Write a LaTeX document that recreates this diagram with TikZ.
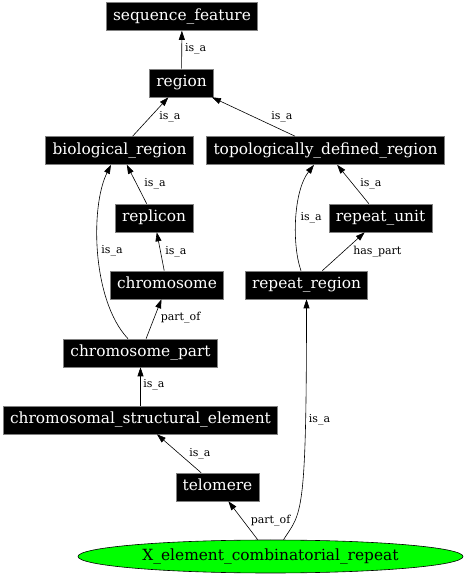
\documentclass[tikz,border=0pt]{standalone}
\usepackage{fontspec}
\setmainfont{DejaVu Serif}
\usetikzlibrary{arrows.meta,shapes.geometric}
\begin{document}
\begin{tikzpicture}[x=1pt,y=1pt,
    term/.style={draw=gray,fill=black,text=white,line width=0.6pt,
      font=\fontsize{15.4}{18}\selectfont,inner xsep=6.8pt,inner ysep=0pt,
      minimum height=28pt,text height=11pt,text depth=3.5pt},
    leaf/.style={ellipse,draw=black,fill=green,line width=0.6pt,
      font=\fontsize{15.4}{18}\selectfont,inner sep=1pt,
      minimum width=385pt,minimum height=33pt},
    lbl/.style={font=\fontsize{11}{13}\selectfont,inner sep=1pt,anchor=west}]
  \useasboundingbox (0,0) rectangle (465,576);
  \draw
    (182,559.5) node[term] (sf){sequence\_feature}
    (181.5,493) node[term] (reg){region}
    (119.5,425.5) node[term] (bio){biological\_region}
    (325.5,425.5) node[term] (topo){topologically\_defined\_region}
    (154,358) node[term] (rep){replicon}
    (380.5,358) node[term] (ru){repeat\_unit}
    (167,291) node[term] (chr){chromosome}
    (306.5,291) node[term] (rr){repeat\_region}
    (140.5,223) node[term] (cp){chromosome\_part}
    (140.5,156) node[term] (cse){chromosomal\_structural\_element}
    (217.5,89) node[term] (tel){telomere}
    (270.5,19.5) node[leaf] (xe){X\_element\_combinatorial\_repeat};
  \begin{scope}[-{Triangle[length=9pt,width=6pt]},line width=0.6pt]
    \draw (reg) to node[lbl,midway,xshift=2pt,yshift=1pt]{is\_a} (sf);
    \draw (bio) to node[lbl,midway,xshift=7.5pt]{is\_a} (reg);
    \draw (topo) to node[lbl,midway,xshift=16.5pt]{is\_a} (reg);
    \draw (rep) to node[lbl,midway,xshift=6.3pt]{is\_a} (bio);
    \draw (chr) to node[lbl,midway,xshift=3.5pt]{is\_a} (rep);
    \draw (cp) to node[lbl,midway,xshift=5.8pt,yshift=1pt]{part\_of} (chr);
    \draw ([xshift=-12.5pt]cp.north) .. controls +(-36,38) and +(-21,-42)
      .. node[lbl,midway,xshift=2pt,yshift=2pt]{is\_a} ([xshift=-8.5pt]bio.south);
    \draw (cse) to node[lbl,midway,xshift=1.5pt,yshift=1.5pt]{is\_a} (cp);
    \draw (tel) to node[lbl,midway,xshift=9pt]{is\_a} (cse);
    \draw (xe) to node[lbl,midway,xshift=6.5pt]{part\_of} (tel);
    \draw ([xshift=13pt]xe.north) .. controls +(18,28) and +(0,-220)
      .. node[lbl,pos=0.765,xshift=2pt]{is\_a} (rr.south);
    \draw ([xshift=-5.5pt]rr.north) .. controls +(-9,25) and +(-21,-27)
      .. node[lbl,midway,xshift=3pt,yshift=1pt]{is\_a} ([xshift=-11.5pt]topo.south);
    \draw (rr) to node[lbl,midway,xshift=8.5pt]{has\_part} (ru);
    \draw (ru) to node[lbl,midway,xshift=6pt]{is\_a} (topo);
  \end{scope}
\end{tikzpicture}
\end{document}
